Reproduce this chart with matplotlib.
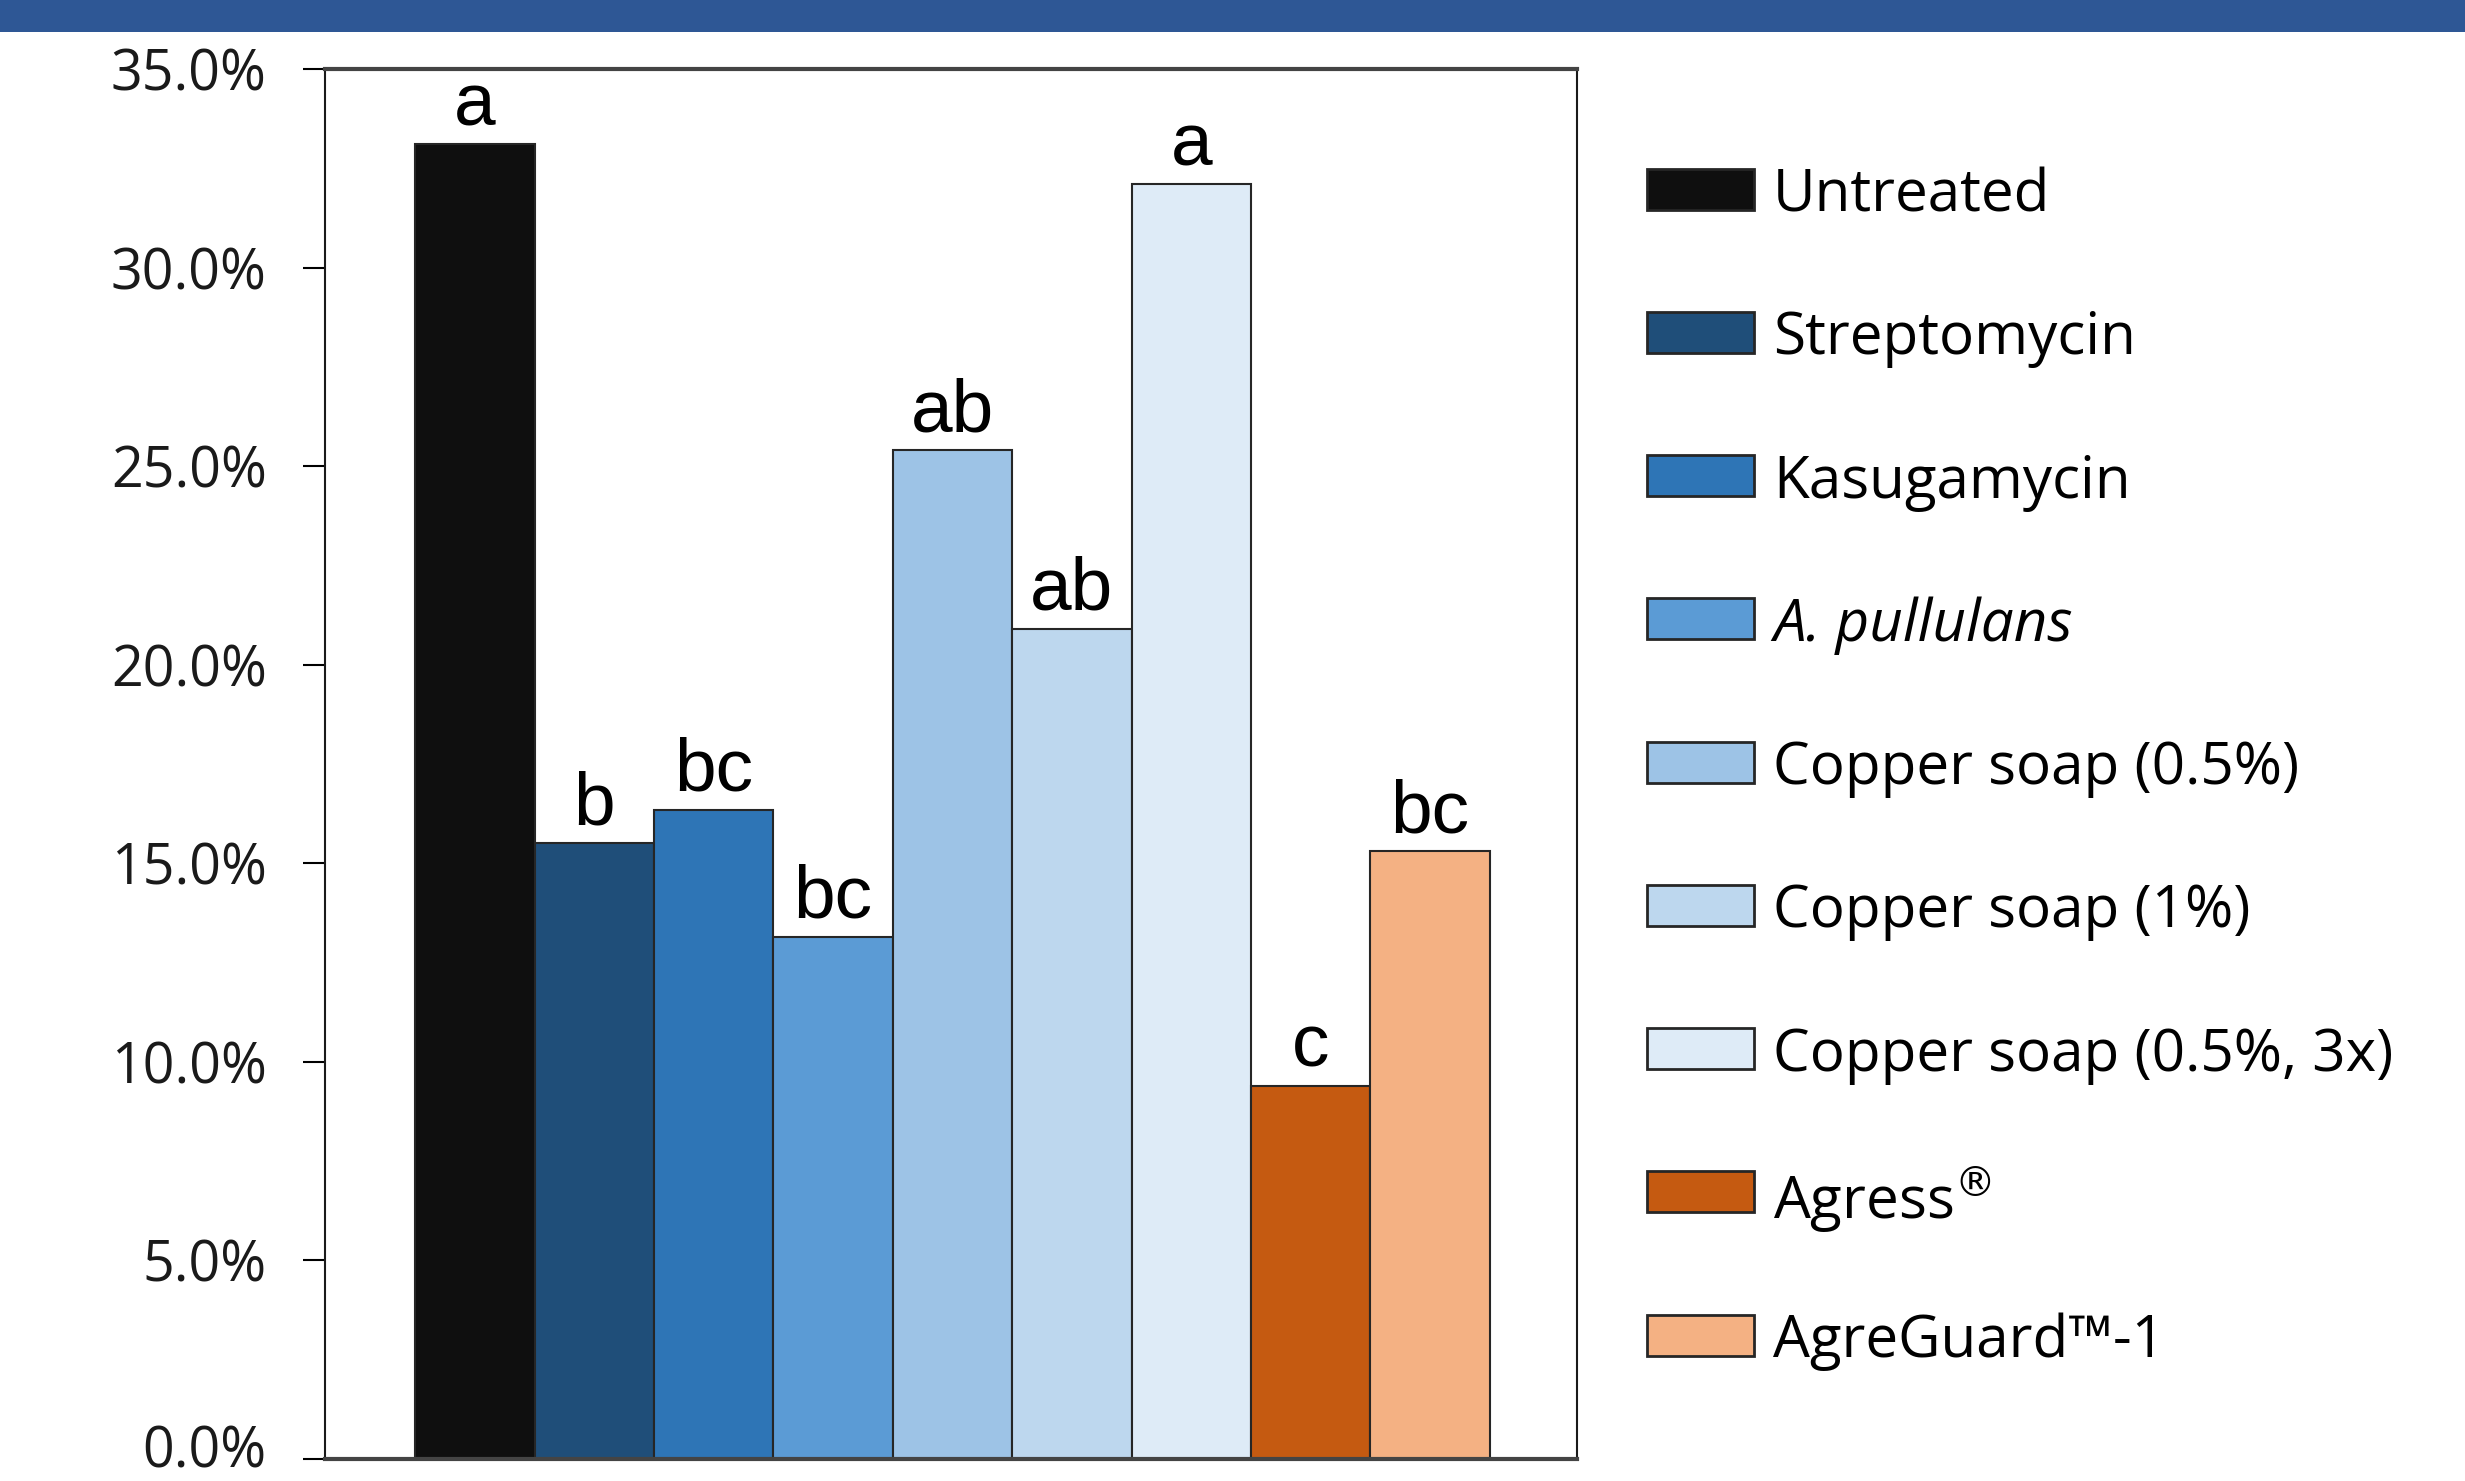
import matplotlib
matplotlib.use("Agg")
import matplotlib.pyplot as plt
import matplotlib.transforms as mtransforms
from matplotlib.patches import Rectangle
from matplotlib.ticker import FuncFormatter, MultipleLocator

treatments = ["Untreated", "Streptomycin", "Kasugamycin", "A. pullulans",
              "Copper soap (0.5%)", "Copper soap (1%)", "Copper soap (0.5%, 3x)",
              "Agress$^{\\circledR}$", "AgreGuard™-1"]
values = [33.1, 15.5, 16.35, 13.15, 25.4, 20.9, 32.1, 9.4, 15.3]
letters = ["a", "b", "bc", "bc", "ab", "ab", "a", "c", "bc"]
colors = ["#0F0F0F", "#1F4E79", "#2E75B6", "#5B9BD5", "#9DC3E6",
          "#BDD7EE", "#DEEBF7", "#C55A11", "#F4B183"]

W, H = 2465, 1481
dpi = 100
fig = plt.figure(figsize=(W / dpi, H / dpi), dpi=dpi)
fig.patch.set_facecolor("white")

# top banner
fig.add_artist(Rectangle((0, 1 - 32 / H), 1, 32 / H, transform=fig.transFigure,
                         facecolor="#2E5795", edgecolor="none"))

ax_l, ax_r, ax_t, ax_b = 325, 1577, 69, 1459
ax = fig.add_axes([ax_l / W, 1 - ax_b / H, (ax_r - ax_l) / W, (ax_b - ax_t) / H])

x = list(range(len(values)))
bars = ax.bar(x, values, width=1.0, color=colors, edgecolor="#262626", linewidth=1.5)

for xi, v, lab in zip(x, values, letters):
    ax.annotate(lab, (xi, v), xytext=(0, 3), textcoords="offset points",
                ha="center", va="bottom", fontsize=54, family="Liberation Sans",
                color="black")

ax.set_xlim(-1.255, 9.23)
ax.set_ylim(0, 35)
ax.yaxis.set_major_locator(MultipleLocator(5))
ax.yaxis.set_major_formatter(FuncFormatter(lambda v, p: f"{v:.1f}%"))
ax.set_xticks([])
ax.tick_params(axis="y", direction="out", length=16, width=1.5, pad=26,
               labelsize=40, labelcolor="#1a1a1a")
fig.canvas.draw()
for lbl in ax.get_yticklabels():
    lbl.set_family("Open Sans")
# nudge the bottom (0.0%) label up slightly so it stays inside the canvas
shift = mtransforms.ScaledTranslation(0, 9 / 72, fig.dpi_scale_trans)
for tick in ax.yaxis.get_major_ticks():
    if abs(tick.get_loc()) < 1e-9:
        tick.label1.set_transform(tick.label1.get_transform() + shift)
for s in ax.spines.values():
    s.set_color("#1a1a1a")
    s.set_linewidth(1.5)
ax.spines["top"].set_linewidth(3)
ax.spines["top"].set_color("#444444")
ax.spines["bottom"].set_linewidth(3)
ax.spines["bottom"].set_color("#444444")

# legend drawn manually in figure pixels
leg_x, leg_y0, leg_dy = 1647, 189, 143.25
box_w, box_h, text_x = 107, 41, 1773
for i, (lab, c) in enumerate(zip(treatments, colors)):
    yc = leg_y0 + i * leg_dy
    fig.add_artist(Rectangle((leg_x / W, 1 - (yc + box_h / 2) / H), box_w / W, box_h / H,
                             transform=fig.transFigure, facecolor=c,
                             edgecolor="#262626", linewidth=2))
    fig.text(text_x / W, 1 - yc / H, lab, ha="left", va="center_baseline",
             family="Open Sans", fontsize=42, color="black",
             style="italic" if lab == "A. pullulans" else "normal")

fig.savefig("out.png", dpi=dpi, facecolor="white")
